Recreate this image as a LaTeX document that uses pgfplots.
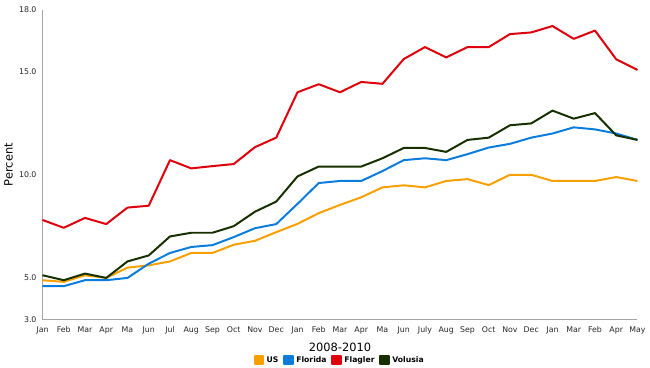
\documentclass[border=0pt]{standalone}
\usepackage{pgfplots}
\pgfplotsset{compat=1.18}
\usepackage{fontspec}
\setmainfont{DejaVu Sans}
\definecolor{cUS}{RGB}{247,160,0}
\definecolor{cFL}{RGB}{10,125,220}
\definecolor{cFG}{RGB}{222,0,10}
\definecolor{cVO}{RGB}{22,48,0}
\definecolor{axgray}{RGB}{165,165,165}
\begin{document}
\begin{tikzpicture}
\begin{axis}[
  scale only axis,
  width=448.5pt, height=233.25pt,
  xmin=0, xmax=28, ymin=3, ymax=18,
  axis x line=bottom, axis y line=left,
  axis line style={-, draw=axgray, line width=1pt},
  major tick length=0pt,
  ytick={3,5,10,15,18},
  yticklabel style={/pgf/number format/fixed, /pgf/number format/fixed zerofill, /pgf/number format/precision=1, /pgf/number format/assume math mode=true, xshift=-1pt},
  xtick={0,...,28},
  xticklabels={Jan,Feb,Mar,Apr,Ma,Jun,Jul,Aug,Sep,Oct,Nov,Dec,Jan,Feb,Mar,Apr,Ma,Jun,July,Aug,Sep,Oct,Nov,Dec,Jan,Mar,Feb,Apr,May},
  tick label style={font=\fontsize{5.9}{7}\selectfont, text=black!85},
  xticklabel style={yshift=-2pt},
  xlabel={2008-2010},
  ylabel={Percent},
  label style={font=\fontsize{8.6}{10}\selectfont},
  xlabel style={at={(axis description cs:0.5,0)}, anchor=center, yshift=-21pt},
  ylabel style={at={(axis description cs:0,0.5)}, anchor=center, rotate=0, yshift=25.5pt},
  legend columns=4,
  legend style={draw=none, fill=none, at={(axis description cs:0.5,-0.132)}, anchor=center,
    font=\bfseries\fontsize{5.8}{6.8}\selectfont, inner sep=0pt,
    /tikz/every even column/.append style={column sep=1.5pt}},
  legend image code/.code={\fill[#1] (0pt,-3.2pt) rectangle (6.4pt,3.2pt);},
  every axis plot/.append style={line width=1.5pt, line join=round},
  clip=false,
]
\addplot[color=cUS] coordinates {
(0,4.90)(1,4.82)(2,5.14)(3,5.01)(4,5.51)(5,5.62)(6,5.81)(7,6.22)(8,6.22)(9,6.62)
(10,6.81)(11,7.23)(12,7.63)(13,8.15)(14,8.55)(15,8.92)(16,9.40)(17,9.50)(18,9.40)(19,9.71)
(20,9.80)(21,9.51)(22,10.01)(23,10.01)(24,9.71)(25,9.71)(26,9.71)(27,9.90)(28,9.71)};
\addlegendentry{US}
\addplot[color=cFL] coordinates {
(0,4.61)(1,4.61)(2,4.90)(3,4.90)(4,5.01)(5,5.70)(6,6.22)(7,6.51)(8,6.60)(9,6.99)
(10,7.42)(11,7.62)(12,8.60)(13,9.61)(14,9.71)(15,9.71)(16,10.19)(17,10.72)(18,10.81)(19,10.72)
(20,11.01)(21,11.33)(22,11.51)(23,11.81)(24,12.01)(25,12.31)(26,12.21)(27,12.01)(28,11.70)};
\addlegendentry{Florida}
\addplot[color=cFG] coordinates {
(0,7.82)(1,7.44)(2,7.92)(3,7.62)(4,8.42)(5,8.51)(6,10.72)(7,10.32)(8,10.43)(9,10.53)
(10,11.35)(11,11.81)(12,14.01)(13,14.40)(14,14.01)(15,14.51)(16,14.42)(17,15.62)(18,16.20)(19,15.70)
(20,16.20)(21,16.20)(22,16.83)(23,16.91)(24,17.22)(25,16.60)(26,17.00)(27,15.61)(28,15.09)};
\addlegendentry{Flagler}
\addplot[color=cVO] coordinates {
(0,5.14)(1,4.90)(2,5.22)(3,5.01)(4,5.81)(5,6.10)(6,7.02)(7,7.20)(8,7.20)(9,7.52)
(10,8.22)(11,8.71)(12,9.93)(13,10.41)(14,10.41)(15,10.41)(16,10.81)(17,11.31)(18,11.31)(19,11.12)
(20,11.70)(21,11.81)(22,12.41)(23,12.50)(24,13.12)(25,12.73)(26,13.00)(27,11.92)(28,11.70)};
\addlegendentry{Volusia}
\end{axis}
\path[use as bounding box] (-31.5pt,-36pt) rectangle (456pt,240.75pt);
\end{tikzpicture}
\end{document}
